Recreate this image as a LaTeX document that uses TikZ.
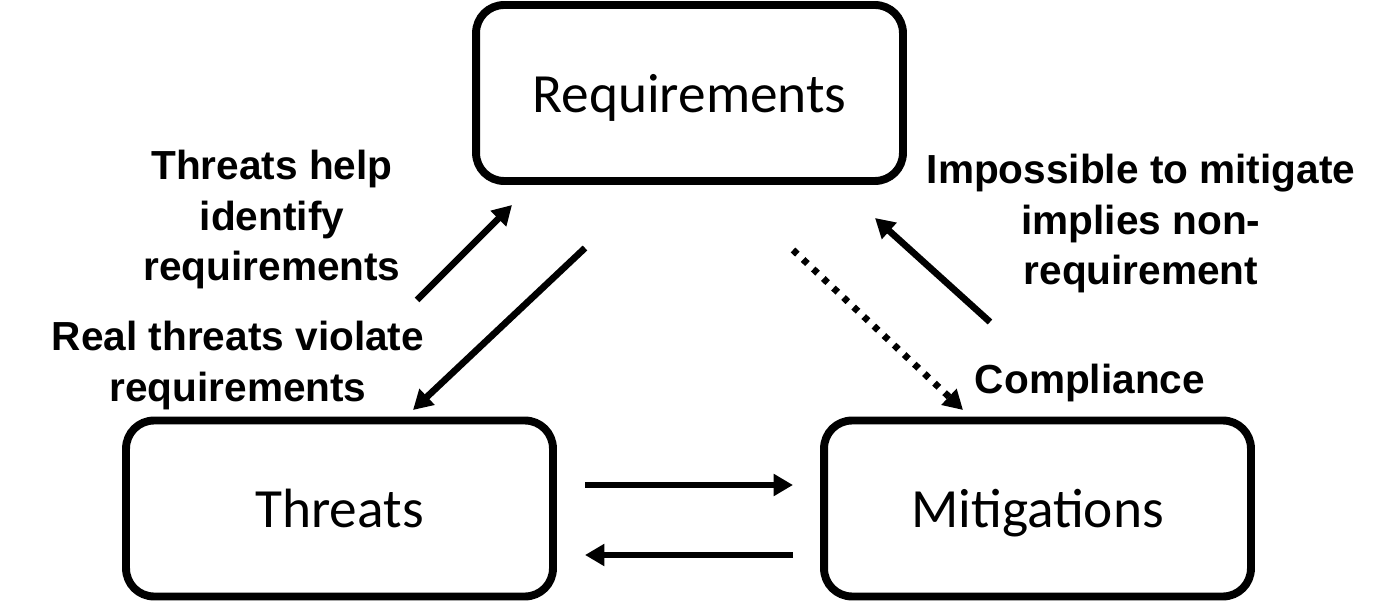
\documentclass[tikz,border=0pt]{standalone}
\usepackage{fontspec}
\setmainfont{Liberation Sans}
\newfontfamily\boxfont{Carlito}
\usetikzlibrary{arrows.meta}
\begin{document}
\begin{tikzpicture}[x=0.02cm,y=-0.02cm,
  box/.style={draw, line width=4.5pt, rounded corners=0.56cm, minimum width=8.54cm, minimum height=3.52cm, inner sep=0pt, font=\boxfont\fontsize{31.5}{38}\selectfont, text depth=0pt},
  lbl/.style={anchor=north, align=center, inner sep=0pt, font=\bfseries\fontsize{23.1}{28.6}\selectfont},
  arr/.style={line width=3.8pt, -{Triangle[length=11pt,width=12pt]}},
  dotarr/.style={arr, dash pattern=on 3.4pt off 4.5pt}]
\useasboundingbox (0,0) rectangle (1400,601);
\node[box] (req) at (689.5,93) {Requirements};
\node[box] (thr) at (339.5,508.5) {Threats};
\node[box] (mit) at (1037.5,508.5) {Mitigations};

\node[lbl] (l1) at (272,150) {Threats help\\identify\\requirements};
\node[lbl] (l2) at (238,321) {Real threats violate\\requirements};
\node[lbl] (l3) at (1141,154) {Impossible to mitigate\\implies non-\\requirement};
\node[lbl] (l4) at (1090,364) {Compliance};

\coordinate (a1s) at (417,300); \coordinate (a1e) at (512,205);
\coordinate (a2s) at (585,248); \coordinate (a2e) at (413,410);
\coordinate (a3s) at (793,250); \coordinate (a3e) at (963,410);
\coordinate (a4s) at (990,322); \coordinate (a4e) at (875,218);
\coordinate (a5s) at (585,485); \coordinate (a5e) at (793,485);
\coordinate (a6s) at (793,555); \coordinate (a6e) at (585,555);

\draw[arr] (a1s) -- (a1e);
\draw[arr] (a2s) -- (a2e);
\draw[dotarr] (a3s) -- (a3e);
\draw[arr] (a4s) -- (a4e);
\draw[arr] (a5s) -- (a5e);
\draw[arr] (a6s) -- (a6e);
\end{tikzpicture}
\end{document}
